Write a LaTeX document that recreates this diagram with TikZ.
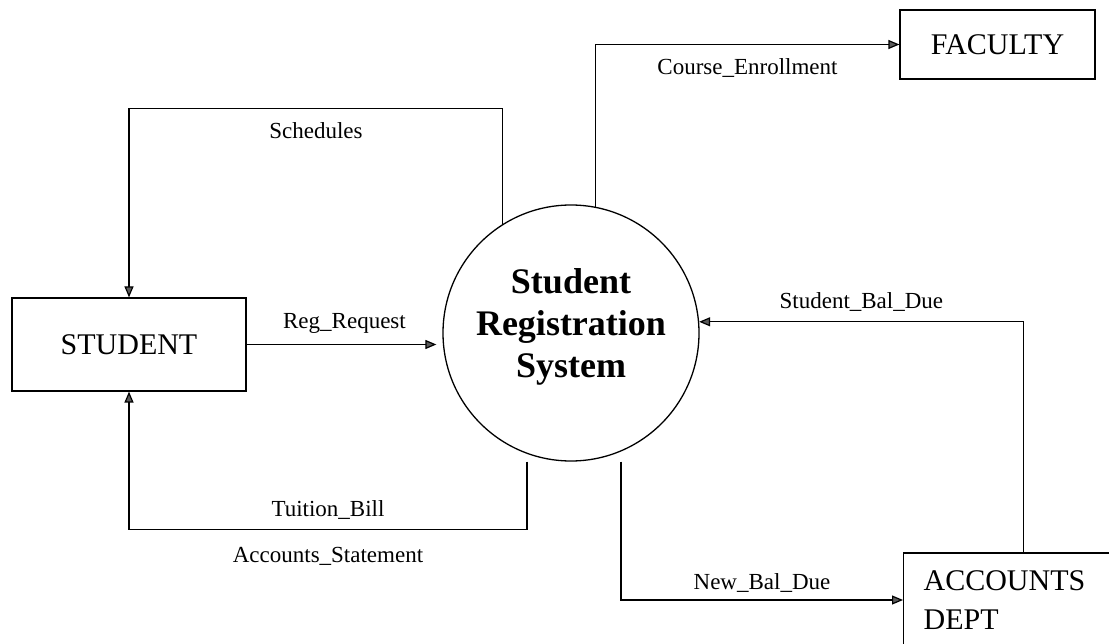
\documentclass[tikz,border=0pt]{standalone}
\usepackage{fontspec}
\setmainfont{Liberation Serif}
\usetikzlibrary{arrows.meta}

\begin{document}
\begin{tikzpicture}[x=1pt,y=-1pt,
  box/.style={draw, line width=1.2pt, inner sep=0pt, font=\fontsize{30}{39}\selectfont},
  proc/.style={draw, circle, line width=1.3pt, minimum size=256pt, inner sep=0pt},
  proctext/.style={align=center, inner sep=0pt, font=\fontsize{36}{42}\selectfont\bfseries},
  flow/.style={line width=1.2pt, -{Triangle[length=11pt,width=9pt,fill=black!65]}},
  lbl/.style={inner sep=2pt, font=\fontsize{23}{27}\selectfont}]

\useasboundingbox (0,0) rectangle (1109,644);

%Externe Stellen und Prozess
\node[box, minimum width=234pt, minimum height=93pt] (student) at (129,344.5) {STUDENT};
\node[box, minimum width=195pt, minimum height=69pt] (faculty) at (997.5,44.5) {FACULTY};
\node[proc] (srs) at (571,333) {};
\node[proctext] (srstext) at ([yshift=6pt]srs.center) {Student\\Registration\\System};
\node[box, minimum width=240pt, minimum height=94pt, anchor=west, align=left, text width=200pt] (accounts) at (903,600) {ACCOUNTS\\DEPT};

%Datenfluesse
\draw[flow, shorten >=6pt] (student.east) -- node[lbl, above=8pt] {Reg\_Request} (srs.west |- student.east);
\draw[flow] (srs.122) -- ++(0,-115) -| node[lbl, below=11pt, pos=0.25] {Schedules} (student.north);
\draw[flow] ([xshift=-44pt]srs.south) -- ++(0,68) -| node[lbl, above=8pt, pos=0.25] {Tuition\_Bill}
  node[lbl, below=15pt, pos=0.25] {Accounts\_Statement} (student.south);
\draw[flow] (srs.79) |- node[lbl, below=11pt, pos=0.75] {Course\_Enrollment} (faculty.west);
\draw[flow] (accounts.north) |- node[lbl, above=8pt, pos=0.75] {Student\_Bal\_Due} (srs.5);
\draw[flow] ([xshift=50pt]srs.south) |- node[lbl, above=5pt, pos=0.75] {New\_Bal\_Due} (accounts.west);

\end{tikzpicture}
\end{document}
